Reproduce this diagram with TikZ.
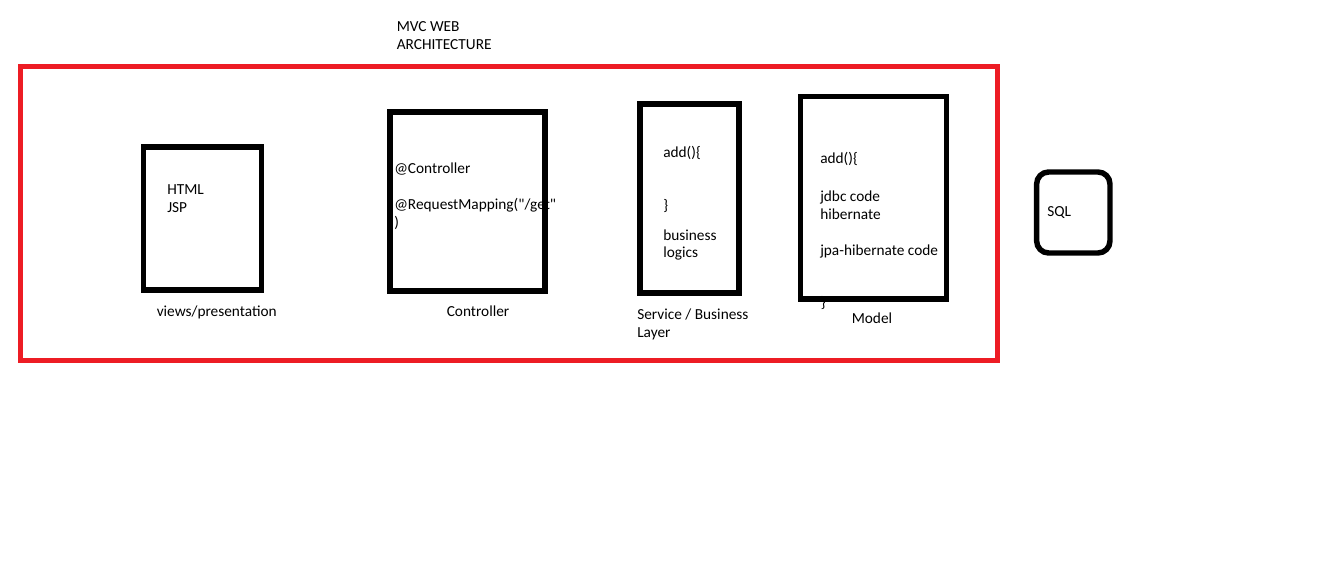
\documentclass[tikz,border=0pt]{standalone}
\usepackage{fontspec}
\setmainfont{Carlito}[Ligatures=TeXOff]
\definecolor{mvcred}{HTML}{ED1C24}
\begin{document}
\begin{tikzpicture}[x=0.75pt,y=-0.75pt,
  txt/.style={anchor=base west,inner sep=0pt,font=\fontsize{11.5pt}{13.5pt}\selectfont,text=black},
  layerbox/.style={draw=black,line width=4.1pt,inner sep=0pt,fill=none},
  frame/.style={draw=mvcred,line width=3.75pt,inner sep=0pt,fill=none}]
\useasboundingbox (0,0) rectangle (1330,574);
% title
\node[txt] (t1) at (396.5,32) {MVC WEB};
\node[txt] (t2) at (396.5,49.5) {ARCHITECTURE};
% texts (drawn before boxes so the borders lie over them)
\node[txt] (v1) at (167,194.5) {HTML};
\node[txt] (v2) at (167,212.5) {JSP};
\node[txt] (vl) at (156.5,316) {views/presentation};
\node[txt] (c1) at (394,173) {@Controller};
\node[txt] (c2) at (394,209.5) {@RequestMapping("/get"};
\node[txt] (c3) at (394,227.5) {)};
\node[txt] (cl) at (446.5,316.7) {Controller};
\node[txt] (s1) at (663,157) {add()\{};
\node[txt] (s2) at (663,210) {\}};
\node[txt] (s3) at (663,240) {business};
\node[txt] (s4) at (663,257) {logics};
\node[txt] (sl1) at (637,319) {Service / Business};
\node[txt] (sl2) at (637,337) {Layer};
\node[txt] (m1) at (820,164) {add()\{};
\node[txt] (m2) at (820,201) {jdbc code};
\node[txt] (m3) at (820,219) {hibernate};
\node[txt] (m4) at (820,255) {jpa-hibernate code};
\node[txt] (m5) at (820.5,307.5) {\}};
\node[txt] (ml) at (851.5,323.3) {Model};
\node[txt] (q1) at (1047,216) {SQL};
% frame and boxes
\node[frame,minimum width=733.1pt,minimum height=220.5pt] (mvc) at (508.75,213.5) {};
\node[layerbox,minimum width=88.5pt,minimum height=107.25pt] (view) at (202.6,218.3) {};
\node[layerbox,minimum width=116.25pt,minimum height=134.25pt] (ctrl) at (467.5,201.5) {};
\node[layerbox,minimum width=74.25pt,minimum height=141.75pt] (serv) at (689.6,198.5) {};
\node[layerbox,minimum width=109.5pt,minimum height=151.7pt] (model) at (873.3,197.8) {};
\node[layerbox,rounded corners=9pt,minimum width=55pt,minimum height=60.75pt] (sql) at (1073.3,212.5) {};
\end{tikzpicture}
\end{document}
